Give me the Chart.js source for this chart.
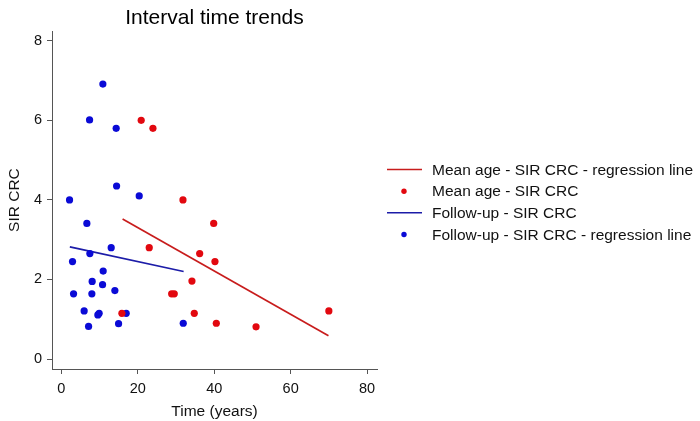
<!DOCTYPE html>
<html>
<head>
<meta charset="utf-8">
<script src="https://cdn.jsdelivr.net/npm/chart.js@4/dist/chart.umd.min.js"></script>
<style>
  html, body { margin: 0; padding: 0; background: #fff; }
  #wrap { width: 700px; height: 421px; position: relative; }
</style>
</head>
<body>
<div id="wrap"><canvas id="c" width="700" height="421"></canvas></div>
<script>
// ---- data ----
const chartTitle = 'Interval time trends';
const xTitle = 'Time (years)';
const yTitle = 'SIR CRC';
const xTickValues = [0, 20, 40, 60, 80];
const yTickValues = [0, 2, 4, 6, 8];

const legendLabels = [
  'Mean age - SIR CRC - regression line',
  'Mean age - SIR CRC',
  'Follow-up - SIR CRC',
  'Follow-up - SIR CRC - regression line'
];

// Mean age series (red points)
const meanAgeX = [20.9, 23.97, 31.83, 39.87, 23.0, 36.2, 40.2, 34.18, 28.87, 29.55, 34.79, 15.85, 40.55, 50.95, 70.0];
const meanAgeY = [6.0, 5.80, 4.0, 3.41, 2.80, 2.65, 2.45, 1.96, 1.64, 1.64, 1.15, 1.15, 0.90, 0.81, 1.21];
// Mean age regression line (red)
const meanAgeLineX = [16.03, 69.9];
const meanAgeLineY = [3.52, 0.585];

// Follow-up series (blue points)
const followX = [10.87, 7.39, 14.35, 14.46, 20.38, 2.15, 6.68, 13.05, 7.47, 2.93, 10.95, 8.07, 10.79, 14.01, 3.20, 7.99, 5.97, 9.90, 9.56, 16.97, 7.13, 14.98, 31.9];
const followY = [6.91, 6.01, 5.80, 4.35, 4.10, 4.00, 3.41, 2.80, 2.65, 2.45, 2.21, 1.95, 1.87, 1.72, 1.64, 1.64, 1.21, 1.15, 1.11, 1.15, 0.82, 0.89, 0.90];
// Follow-up regression line (blue)
const followLineX = [2.23, 32.0];
const followLineY = [2.82, 2.20];

// ---- styles ----
const RED_PT = '#e2080f';
const RED_LN = '#c81c1c';
const BLUE_PT = '#0a0ad6';
const BLUE_LN = '#1c1ca8';
const AXIS = '#555';
const FONT = '"Liberation Sans", Arial, Helvetica, sans-serif';

const zip = (xs, ys) => xs.map((x, i) => ({ x: x, y: ys[i] }));

const legendItems = [
  { label: legendLabels[0], kind: 'line', color: RED_LN },
  { label: legendLabels[1], kind: 'dot', color: RED_PT },
  { label: legendLabels[2], kind: 'line', color: BLUE_LN },
  { label: legendLabels[3], kind: 'dot', color: BLUE_PT }
];

const customLegend = {
  id: 'customLegend',
  afterDraw(chart) {
    const ctx = chart.ctx;
    const x0 = 387, x1 = 422, tx = 432;
    const ys = [169.5, 191.2, 212.8, 234.5];
    ctx.save();
    ctx.font = '15.5px ' + FONT;
    ctx.textBaseline = 'middle';
    ctx.textAlign = 'left';
    legendItems.forEach((it, i) => {
      const y = ys[i];
      if (it.kind === 'line') {
        ctx.strokeStyle = it.color;
        ctx.lineWidth = 1.6;
        ctx.beginPath();
        ctx.moveTo(x0, y);
        ctx.lineTo(x1, y);
        ctx.stroke();
      } else {
        ctx.fillStyle = it.color;
        ctx.beginPath();
        ctx.arc((x0 + x1) / 2 - 0.5, y, 2.7, 0, Math.PI * 2);
        ctx.fill();
      }
      ctx.fillStyle = '#111';
      ctx.fillText(it.label, tx, y + 1);
    });
    ctx.restore();
  }
};

new Chart(document.getElementById('c'), {
  type: 'scatter',
  data: {
    datasets: [
      { label: legendLabels[1], data: zip(meanAgeX, meanAgeY), backgroundColor: RED_PT, borderColor: RED_PT,
        pointRadius: 3.6, pointBorderWidth: 0, order: 0 },
      { label: legendLabels[3], data: zip(followX, followY), backgroundColor: BLUE_PT, borderColor: BLUE_PT,
        pointRadius: 3.6, pointBorderWidth: 0, order: 0 },
      { label: legendLabels[0], data: zip(meanAgeLineX, meanAgeLineY), showLine: true, borderColor: RED_LN,
        borderWidth: 1.7, pointRadius: 0, fill: false, order: 1 },
      { label: legendLabels[2], data: zip(followLineX, followLineY), showLine: true, borderColor: BLUE_LN,
        borderWidth: 1.7, pointRadius: 0, fill: false, order: 1 }
    ]
  },
  options: {
    responsive: false,
    animation: false,
    layout: { padding: { left: 0, right: 323, top: 0, bottom: 0 } },
    plugins: {
      legend: { display: false },
      tooltip: { enabled: false },
      title: {
        display: true, text: chartTitle, fullSize: false, color: '#000',
        font: { family: FONT, size: 21, weight: 'normal' },
        padding: { top: 6, bottom: 0 }
      }
    },
    scales: {
      x: {
        type: 'linear', min: -2.44, max: 82.6,
        afterBuildTicks: (s) => { s.ticks = xTickValues.map(v => ({ value: v })); },
        afterFit: (s) => { s.height = 52; },
        ticks: { color: '#111', font: { family: FONT, size: 14.5 }, padding: 6, maxRotation: 0 },
        grid: { drawOnChartArea: false, drawTicks: true, tickLength: 5, color: AXIS, lineWidth: 1 },
        border: { display: true, color: AXIS, width: 1 },
        title: { display: true, text: xTitle, color: '#111', font: { family: FONT, size: 15.5 }, padding: { top: 1, bottom: 0 } }
      },
      y: {
        type: 'linear', min: -0.25, max: 8.24,
        afterBuildTicks: (s) => { s.ticks = yTickValues.map(v => ({ value: v })); },
        afterFit: (s) => { s.width = 52; },
        ticks: { color: '#111', font: { family: FONT, size: 14.5 }, padding: 5 },
        grid: { drawOnChartArea: false, drawTicks: true, tickLength: 5, color: AXIS, lineWidth: 1 },
        border: { display: true, color: AXIS, width: 1 },
        title: { display: true, text: yTitle, color: '#111', font: { family: FONT, size: 15.5 }, padding: { top: 5, bottom: 0 } }
      }
    }
  },
  plugins: [customLegend]
});
</script>
</body>
</html>
